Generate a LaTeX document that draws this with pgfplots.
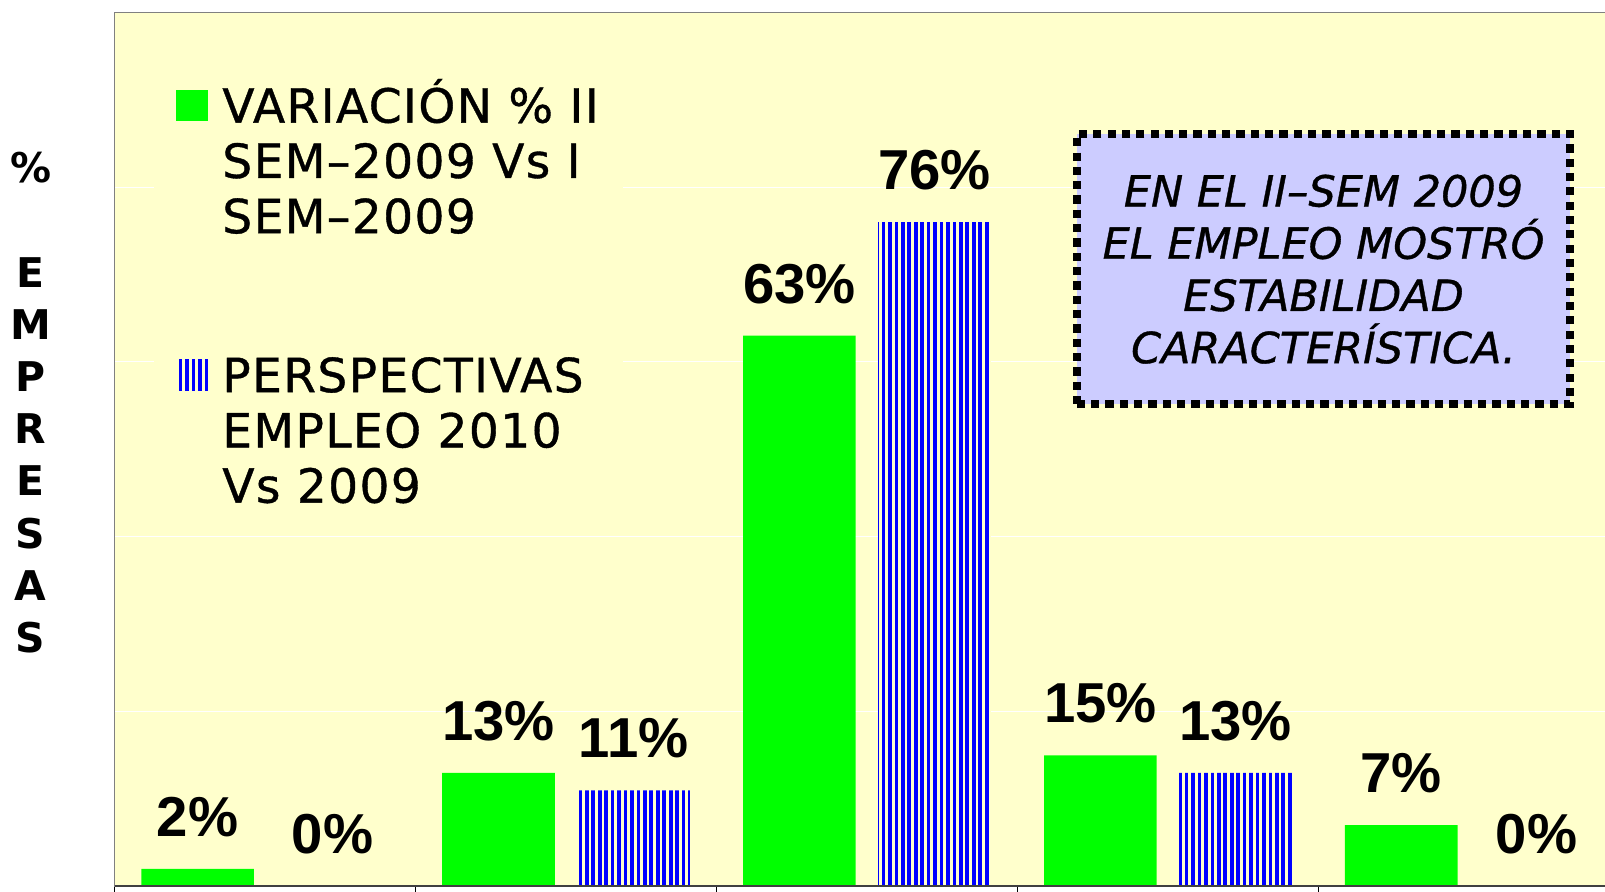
\documentclass[border=0pt]{standalone}
\usepackage{fontspec}
\setmainfont{DejaVu Sans}
\newfontfamily\legfont[FakeBold=0.8,LetterSpace=3]{DejaVu Sans}
\newfontfamily\boxfont[FakeBold=0.8]{DejaVu Sans}
\newfontfamily\labfont{Liberation Sans}
\usepackage{pgfplots}
\pgfplotsset{compat=1.18}
\usetikzlibrary{patterns.meta}
\definecolor{bgy}{HTML}{FFFFCC}
\definecolor{gr}{HTML}{00FF00}
\definecolor{lav}{HTML}{CCCCFF}
\definecolor{bl}{HTML}{0000FF}
\pgfplotsset{sqlegend/.style={legend image code/.code={\fill[##1] (0pt,2pt) rectangle (31pt,32pt);}}}

\begin{document}
\begin{tikzpicture}
\useasboundingbox (0pt,0pt) rectangle (1568pt,871pt);
\fill[white] (0pt,0pt) rectangle (1568pt,871pt);
\clip (0pt,0pt) rectangle (1568pt,871pt);
\begin{axis}[
  at={(112pt,5pt)}, anchor=south west,
  scale only axis, width=1470pt, height=854pt,
  xmin=-0.5, xmax=4.5, ymin=0, ymax=100,
  axis background/.style={fill=bgy},
  axis line style={draw=gray, line width=1.5pt},
  xtick={-0.5,0.5,1.5,2.5,3.5,4.5}, xticklabels={}, xtick pos=left,
  ytick={20,40,60,80}, yticklabels={},
  ymajorgrids, grid style={white, line width=1pt},
  major tick length=9pt, tick align=outside,
  xtick style={black, line width=1pt},
  ytick style={draw=none},
  ybar, bar width=110pt,
  /pgf/number format/assume math mode=true,
  nodes near coords={\pgfmathprintnumber{\pgfplotspointmeta}\%},
  nodes near coords style={anchor=south, inner sep=0pt, yshift=31pt, text=black,
     font=\labfont\bfseries\fontsize{55}{60}\selectfont},
  ylabel={\%\\[51pt]E\\M\\P\\R\\E\\S\\A\\S},
  every axis y label/.style={at={(rel axis cs:0,0.5533)}, xshift=-82pt, anchor=center,
     align=center, font=\bfseries\fontsize{40}{51}\selectfont},
  legend style={at={(rel axis cs:0.02585,0.938)}, anchor=north west, draw=none, fill=bgy,
     inner xsep=22pt, inner ysep=10pt, column sep=12pt, row sep=220pt,
     font=\legfont\fontsize{46}{54}\selectfont, cells={anchor=base west, inner sep=0pt}},
]
\addplot[fill=gr, draw=none, bar shift=-66pt, sqlegend]
  coordinates {(0,2) (1,13) (2,63) (3,15) (4,7)};
\addlegendentry{\begin{tabular}[t]{@{}l@{}}VARIACIÓN \% II\\SEM–2009 Vs I\\SEM–2009\end{tabular}}
\addplot[fill=bgy, draw=none, bar shift=66pt,
   postaction={pattern={Lines[angle=90,distance=6.3pt,line width=3.6pt]}, pattern color=bl},
   sqlegend]
  coordinates {(0,0) (1,11) (2,76) (3,13) (4,0)};
\addlegendentry{\begin{tabular}[t]{@{}l@{}}PERSPECTIVAS\\EMPLEO 2010\\Vs 2009\end{tabular}}
\draw[black!75, line width=2pt] (rel axis cs:0,0) -- (rel axis cs:1,0);
\node[draw=black, line width=8pt, dash pattern=on 8pt off 6pt, fill=lav,
   minimum width=482pt, minimum height=264pt, align=center, inner sep=0pt,
   font=\boxfont\itshape\fontsize{42}{51}\selectfont]
   at (rel axis cs:0.8034,0.7061) {EN EL II–SEM 2009\\EL EMPLEO MOSTRÓ\\ESTABILIDAD\\CARACTERÍSTICA.};
\end{axis}
\end{tikzpicture}
\end{document}
